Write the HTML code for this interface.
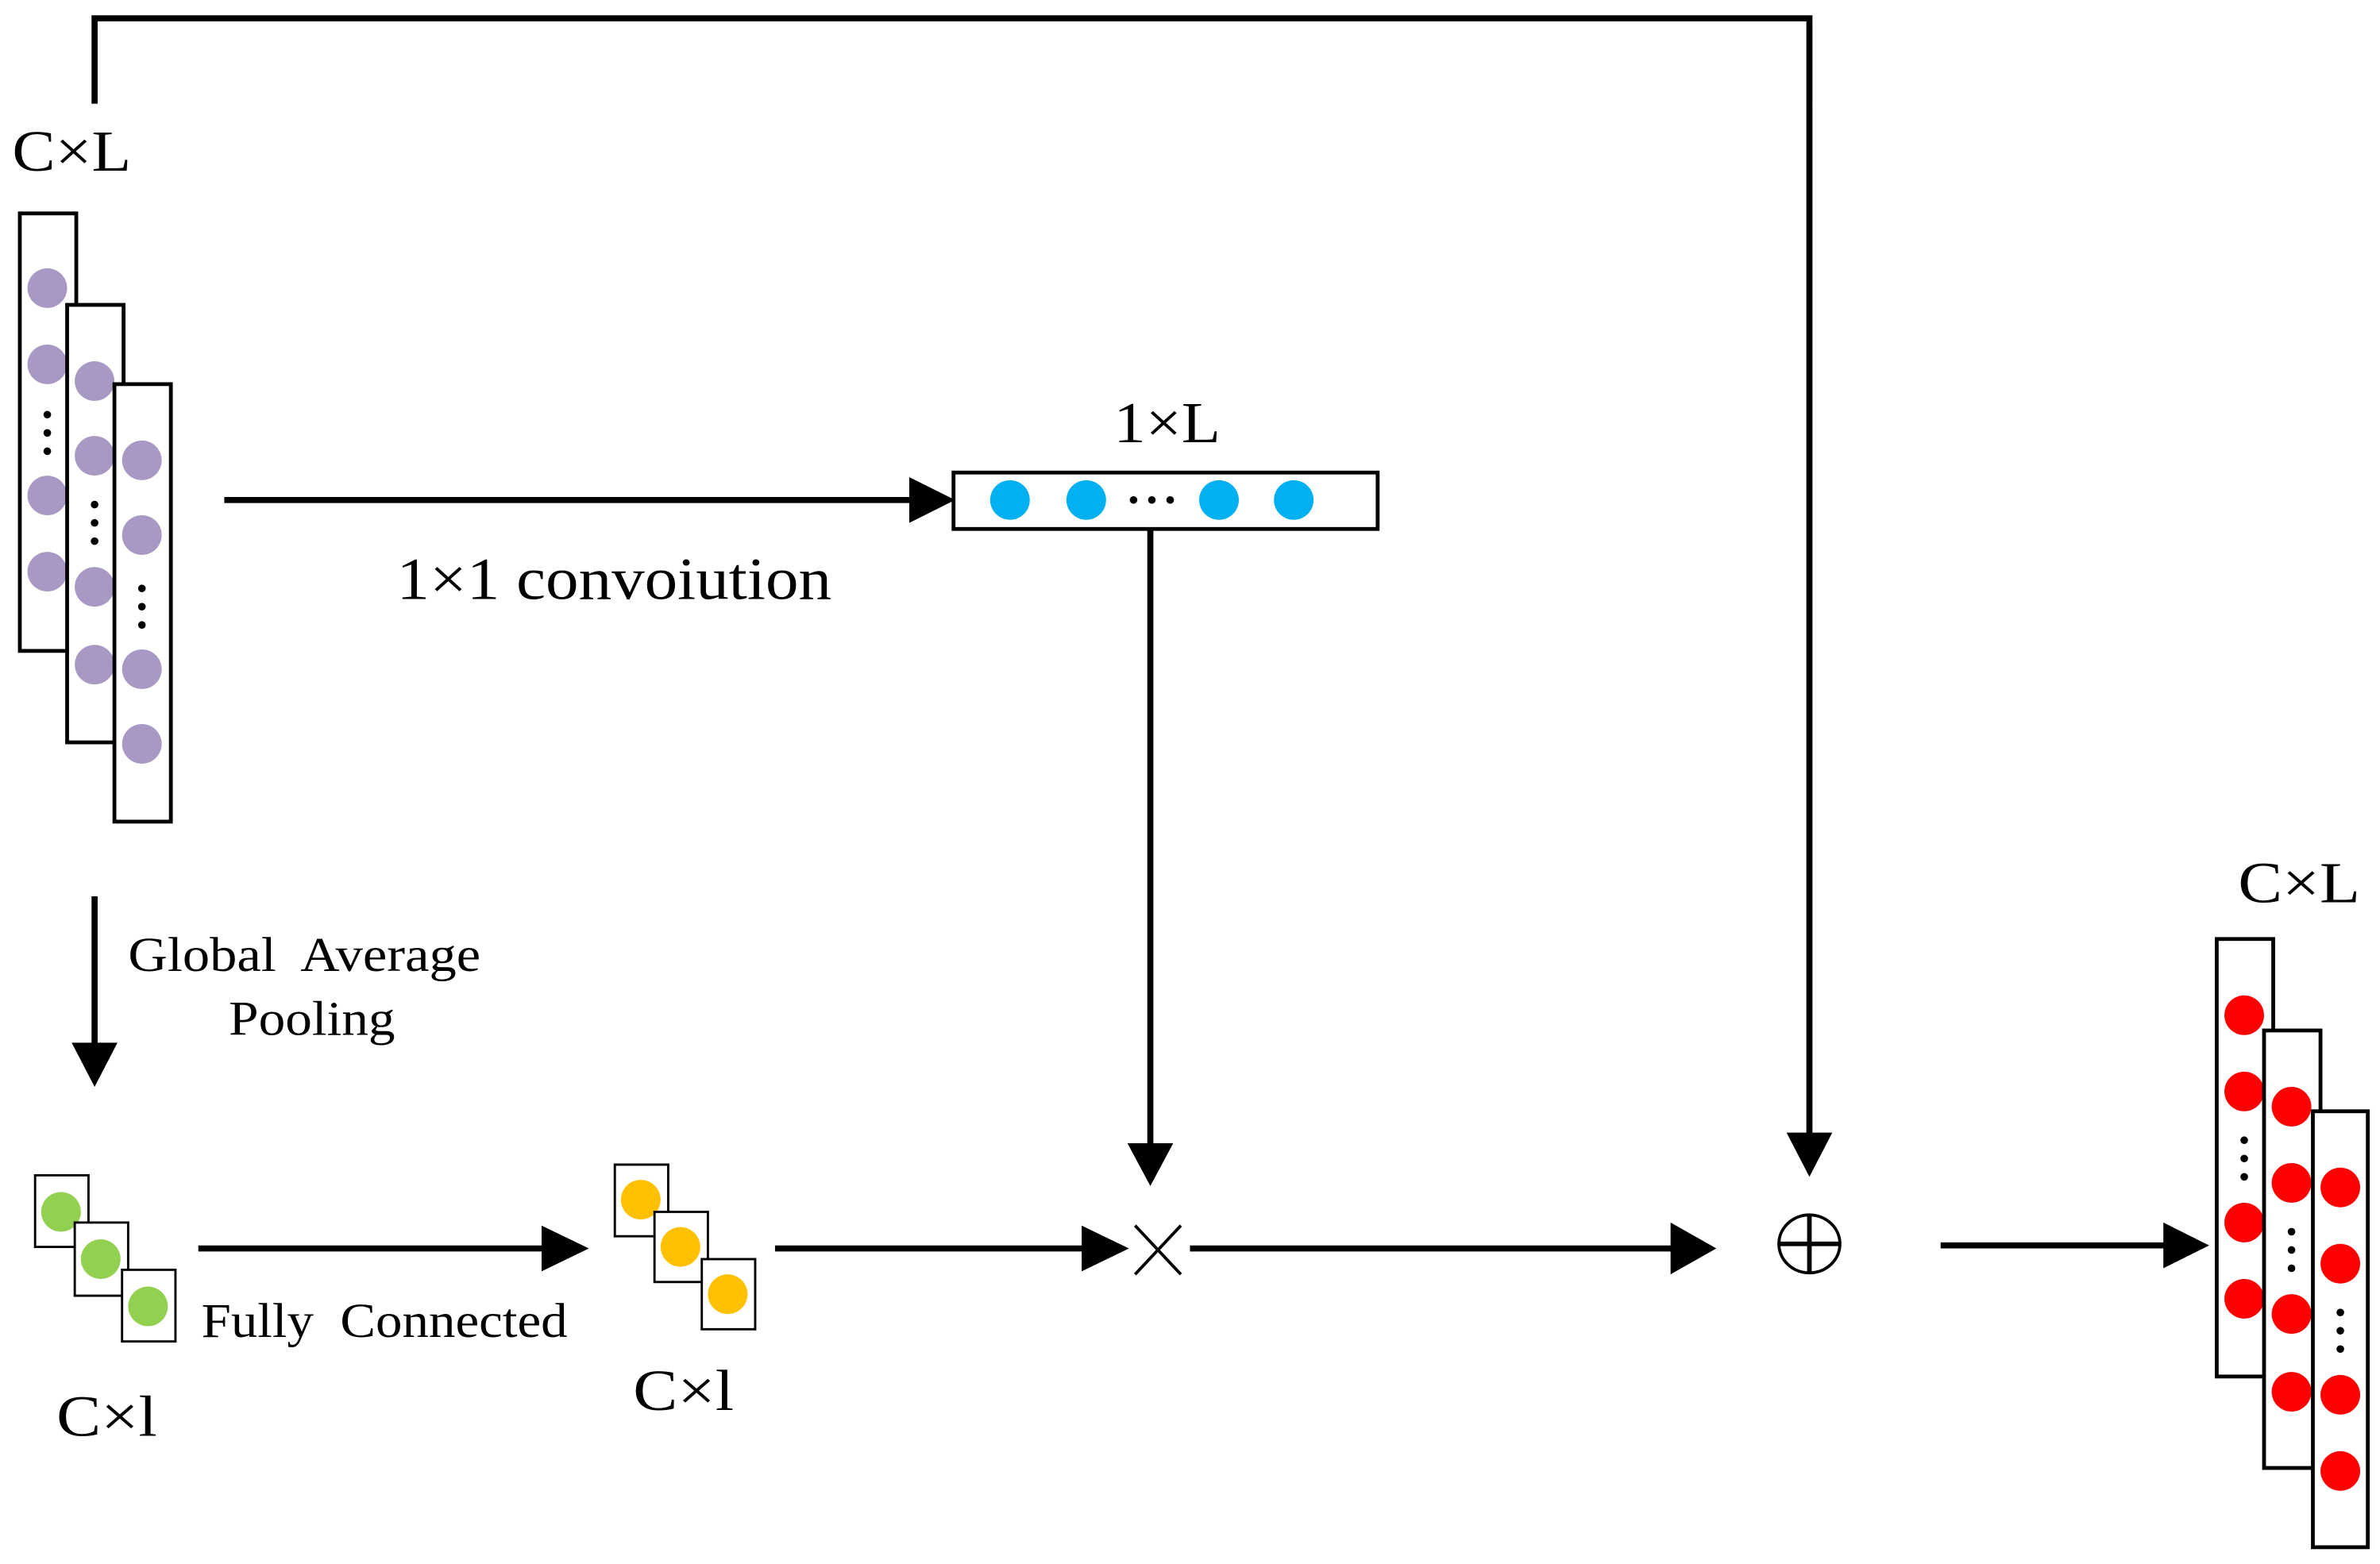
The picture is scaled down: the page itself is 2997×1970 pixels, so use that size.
<!DOCTYPE html>
<html><head><meta charset="utf-8"><style>html,body{margin:0;padding:0;background:#fff}svg{display:block}</style></head><body>
<svg width="2997" height="1970" viewBox="0 0 1560 1026" preserveAspectRatio="none" xmlns="http://www.w3.org/2000/svg" font-family="Liberation Serif, serif">
<g stroke="#000" stroke-width="4" fill="none">
<polyline points="62,68 62,12 1186,12 1186,745"/>
<line x1="147" y1="328" x2="598" y2="328"/>
<line x1="754" y1="347" x2="754" y2="752"/>
<line x1="62" y1="588" x2="62" y2="686"/>
<line x1="130" y1="819" x2="358" y2="819"/>
<line x1="508" y1="819" x2="711" y2="819"/>
<line x1="780" y1="819" x2="1097" y2="819"/>
<line x1="1272" y1="817" x2="1420" y2="817"/>
</g>
<g fill="#000">
<path d="M596,313 L626,328 L596,343Z"/>
<path d="M739,750 L754,778 L769,750Z"/>
<path d="M1171,743 L1186,772 L1201,743Z"/>
<path d="M47,684 L62,713 L77,684Z"/>
<path d="M355,804 L386,819 L355,834Z"/>
<path d="M709,804 L740,819 L709,834Z"/>
<path d="M1095,802 L1125,819 L1095,836Z"/>
<path d="M1418,802 L1448,817 L1418,832Z"/>
</g>
<g stroke="#000" stroke-width="2" fill="none">
<line x1="744" y1="804" x2="774" y2="836"/><line x1="774" y1="804" x2="744" y2="836"/>
<ellipse cx="1186" cy="816" rx="20" ry="19"/>
<line x1="1166" y1="816" x2="1206" y2="816" stroke-width="3"/><line x1="1186" y1="797" x2="1186" y2="835" stroke-width="3"/>
</g>
<rect x="13" y="140" width="37" height="287" stroke="#000" stroke-width="2.5" fill="#fff"/>
<g fill="#a899c4"><circle cx="31" cy="189" r="13"/><circle cx="31" cy="239" r="13"/><circle cx="31" cy="325" r="13"/><circle cx="31" cy="375" r="13"/></g>
<rect x="44" y="200" width="37" height="287" stroke="#000" stroke-width="2.5" fill="#fff"/>
<g fill="#a899c4"><circle cx="62" cy="250" r="13"/><circle cx="62" cy="299" r="13"/><circle cx="62" cy="385" r="13"/><circle cx="62" cy="436" r="13"/></g>
<rect x="75" y="252" width="37" height="287" stroke="#000" stroke-width="2.5" fill="#fff"/>
<g fill="#a899c4"><circle cx="93" cy="302" r="13"/><circle cx="93" cy="351" r="13"/><circle cx="93" cy="439" r="13"/><circle cx="93" cy="488" r="13"/></g>
<rect x="625" y="310" width="278" height="37" stroke="#000" stroke-width="2.5" fill="#fff"/>
<g fill="#00b0f0"><circle cx="662" cy="328" r="13"/><circle cx="712" cy="328" r="13"/><circle cx="799" cy="328" r="13"/><circle cx="848" cy="328" r="13"/></g>
<g fill="#000">
<circle cx="31" cy="272" r="2.5"/><circle cx="31" cy="284" r="2.5"/><circle cx="31" cy="296" r="2.5"/>
<circle cx="62" cy="331" r="2.5"/><circle cx="62" cy="343" r="2.5"/><circle cx="62" cy="355" r="2.5"/>
<circle cx="93" cy="386" r="2.5"/><circle cx="93" cy="398" r="2.5"/><circle cx="93" cy="410" r="2.5"/>
<circle cx="743" cy="328" r="2.5"/><circle cx="755" cy="328" r="2.5"/><circle cx="767" cy="328" r="2.5"/>
</g>
<rect x="23" y="771" width="35" height="47" stroke="#000" stroke-width="1.5" fill="#fff"/><circle cx="40" cy="795" r="13" fill="#92d050"/>
<rect x="49" y="802" width="35" height="48" stroke="#000" stroke-width="1.5" fill="#fff"/><circle cx="66" cy="826" r="13" fill="#92d050"/>
<rect x="80" y="833" width="35" height="47" stroke="#000" stroke-width="1.5" fill="#fff"/><circle cx="97" cy="857" r="13" fill="#92d050"/>
<rect x="403" y="764" width="35" height="47" stroke="#000" stroke-width="1.5" fill="#fff"/><circle cx="420" cy="787" r="13" fill="#ffc000"/>
<rect x="429" y="795" width="35" height="46" stroke="#000" stroke-width="1.5" fill="#fff"/><circle cx="446" cy="818" r="13" fill="#ffc000"/>
<rect x="460" y="826" width="35" height="46" stroke="#000" stroke-width="1.5" fill="#fff"/><circle cx="477" cy="849" r="13" fill="#ffc000"/>
<rect x="1453" y="616" width="37" height="287" stroke="#000" stroke-width="2.5" fill="#fff"/>
<g fill="#ff0000"><circle cx="1471" cy="666" r="13"/><circle cx="1471" cy="716" r="13"/><circle cx="1471" cy="802" r="13"/><circle cx="1471" cy="852" r="13"/></g>
<rect x="1484" y="676" width="37" height="287" stroke="#000" stroke-width="2.5" fill="#fff"/>
<g fill="#ff0000"><circle cx="1502" cy="726" r="13"/><circle cx="1502" cy="776" r="13"/><circle cx="1502" cy="862" r="13"/><circle cx="1502" cy="913" r="13"/></g>
<rect x="1516" y="729" width="36" height="286" stroke="#000" stroke-width="2.5" fill="#fff"/>
<g fill="#ff0000"><circle cx="1534" cy="779" r="13"/><circle cx="1534" cy="829" r="13"/><circle cx="1534" cy="915" r="13"/><circle cx="1534" cy="965" r="13"/></g>
<g fill="#000">
<circle cx="1471" cy="748" r="2.5"/><circle cx="1471" cy="760" r="2.5"/><circle cx="1471" cy="772" r="2.5"/>
<circle cx="1502" cy="808" r="2.5"/><circle cx="1502" cy="820" r="2.5"/><circle cx="1502" cy="832" r="2.5"/>
<circle cx="1534" cy="861" r="2.5"/><circle cx="1534" cy="873" r="2.5"/><circle cx="1534" cy="885" r="2.5"/>
</g>
<g fill="#000">
<text x="8" y="112" font-size="38" textLength="78" lengthAdjust="spacingAndGlyphs">C×L</text>
<text x="730" y="290" font-size="38" textLength="70" lengthAdjust="spacingAndGlyphs">1×L</text>
<text x="260" y="393" font-size="39" textLength="285" lengthAdjust="spacingAndGlyphs">1×1 convoiution</text>
<text x="84" y="637" font-size="32" xml:space="preserve" textLength="231" lengthAdjust="spacingAndGlyphs">Global  Average</text>
<text x="150" y="679" font-size="32" textLength="109" lengthAdjust="spacingAndGlyphs">Pooling</text>
<text x="132" y="877" font-size="32" xml:space="preserve" textLength="240" lengthAdjust="spacingAndGlyphs">Fully  Connected</text>
<text x="37" y="942" font-size="38" textLength="66" lengthAdjust="spacingAndGlyphs">C×l</text>
<text x="415" y="925" font-size="38" textLength="66" lengthAdjust="spacingAndGlyphs">C×l</text>
<text x="1467" y="592" font-size="38" textLength="80" lengthAdjust="spacingAndGlyphs">C×L</text>
</g>
</svg>
</body></html>
